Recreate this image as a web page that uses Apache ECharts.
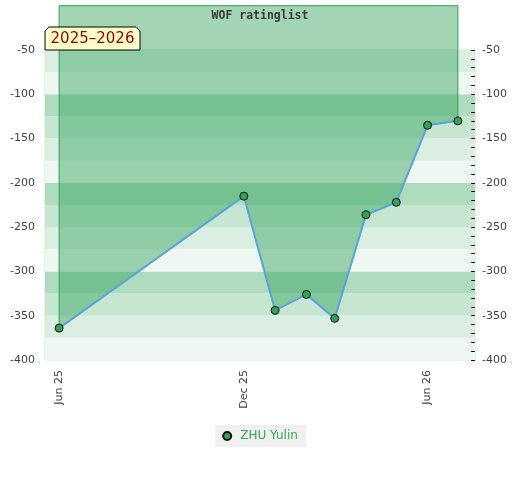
<!DOCTYPE html>
<html>
<head>
<meta charset="utf-8">
<script src="https://cdn.jsdelivr.net/npm/echarts@6/dist/echarts.min.js"></script>
<style>html,body{margin:0;padding:0;background:#fff}#c{width:520px;height:480px}</style>
</head>
<body>
<div id="c"></div>
<script>
// ---- data ----
const dates = ['2025-06-01','2025-12-01','2026-01-01','2026-02-01','2026-03-01','2026-04-01','2026-05-01','2026-06-01','2026-07-01'];
const ratings = [-364, -215, -344, -326, -353, -236, -222, -135, -130];
const seriesName = 'ZHU Yulin';
const titleText = 'WOF ratinglist';
const seasonText = '2025\u20132026';
const xLabelDates = ['2025-06-01','2025-12-01','2026-06-01'];
const xMin = '2025-05-18', xMax = '2026-07-18';
const yMin = -400, yMax = -50;
const fillOrigin = 0;
const months = ['Jan','Feb','Mar','Apr','May','Jun','Jul','Aug','Sep','Oct','Nov','Dec'];

const chart = echarts.init(document.getElementById('c'), null, {renderer:'canvas'});
const ts = s => new Date(s + 'T00:00:00Z').getTime();
const lineData = dates.map((d,i)=>[ts(d), ratings[i]]);

const option = {
  animation: false,
  title: {
    text: titleText, left: 'center', top: 5,
    textStyle: {fontFamily: 'DejaVu Sans Mono', fontWeight: 'bold', fontSize: 11.5, color: '#3a3a3a'}
  },
  grid: {left: 45, right: 45, top: 50, bottom: 120, show: true, borderColor: '#ddd', borderWidth: 1, backgroundColor: 'transparent'},
  legend: {
    data: [seriesName], bottom: 33, left: 'center',
    backgroundColor: '#f0f0f0', padding: [5, 8, 5, 7],
    icon: 'circle', itemWidth: 8, itemHeight: 8, itemGap: 6,
    textStyle: {color: '#3aa35a', fontSize: 12, fontFamily: 'DejaVu Sans', padding: [0, 0, 0, 4]}
  },
  xAxis: {
    type: 'value', min: ts(xMin), max: ts(xMax),
    axisLine: {show: false}, axisTick: {show: false}, splitLine: {show: false},
    axisLabel: {
      customValues: xLabelDates.map(ts),
      rotate: 90, margin: 10, color: '#444', fontSize: 11, fontFamily: 'DejaVu Sans',
      formatter: v => { const d = new Date(v); return months[d.getUTCMonth()] + ' ' + String(d.getUTCFullYear()).slice(2); }
    }
  },
  yAxis: [
    {
      type: 'value', min: yMin, max: yMax, interval: 25, position: 'left',
      axisLine: {show: false}, axisTick: {show: false}, splitLine: {show: false},
      splitArea: {show: true, areaStyle: {color: ['#eef7f1', '#dbeee2', '#c7e6d2', '#afdbbf']}},
      axisLabel: {color: '#444', fontSize: 11, fontFamily: 'DejaVu Sans', margin: 10,
        formatter: v => (v % 50 === 0 ? String(v) : '')}
    },
    {
      type: 'value', min: yMin, max: yMax, interval: 50, position: 'right',
      axisLine: {show: false},
      axisTick: {show: true, inside: true, length: 4, lineStyle: {color: '#000'}},
      minorTick: {show: true, splitNumber: 5, length: 4, lineStyle: {color: '#000'}},
      splitLine: {show: false},
      axisLabel: {color: '#444', fontSize: 11, fontFamily: 'DejaVu Sans', margin: 7}
    }
  ],
  series: [
    {
      type: 'custom', z: 1, silent: true,
      data: [0],
      renderItem: function (params, api) {
        const pts = [];
        pts.push(api.coord([lineData[0][0], fillOrigin]));
        lineData.forEach(p => pts.push(api.coord(p)));
        pts.push(api.coord([lineData[lineData.length - 1][0], fillOrigin]));
        return {
          type: 'polygon',
          shape: {points: pts},
          style: {fill: 'rgba(46,160,87,0.44)', stroke: '#28a650', lineWidth: 1}
        };
      },
      clip: false
    },
    {
      name: seriesName, type: 'line', z: 3, data: lineData,
      symbol: 'circle', symbolSize: 8,
      lineStyle: {color: '#5ba3db', width: 2},
      itemStyle: {color: '#35a05a', borderColor: '#111', borderWidth: 1}
    }
  ],
  graphic: {
    elements: [
      {type: 'polygon', x: 45, y: 27, z: 100, shape: {points: [[0,4],[4,0],[91,0],[95,4],[95,23],[0,23]]},
       style: {fill: '#ffffcc', stroke: '#000', lineWidth: 1}},
      {type: 'text', x: 92.5, y: 39.5, z: 101, style: {text: seasonText, fill: '#990000', font: '15px "DejaVu Sans"', align: 'center', verticalAlign: 'middle'}}
    ]
  }
};
chart.setOption(option);
</script>
</body>
</html>
